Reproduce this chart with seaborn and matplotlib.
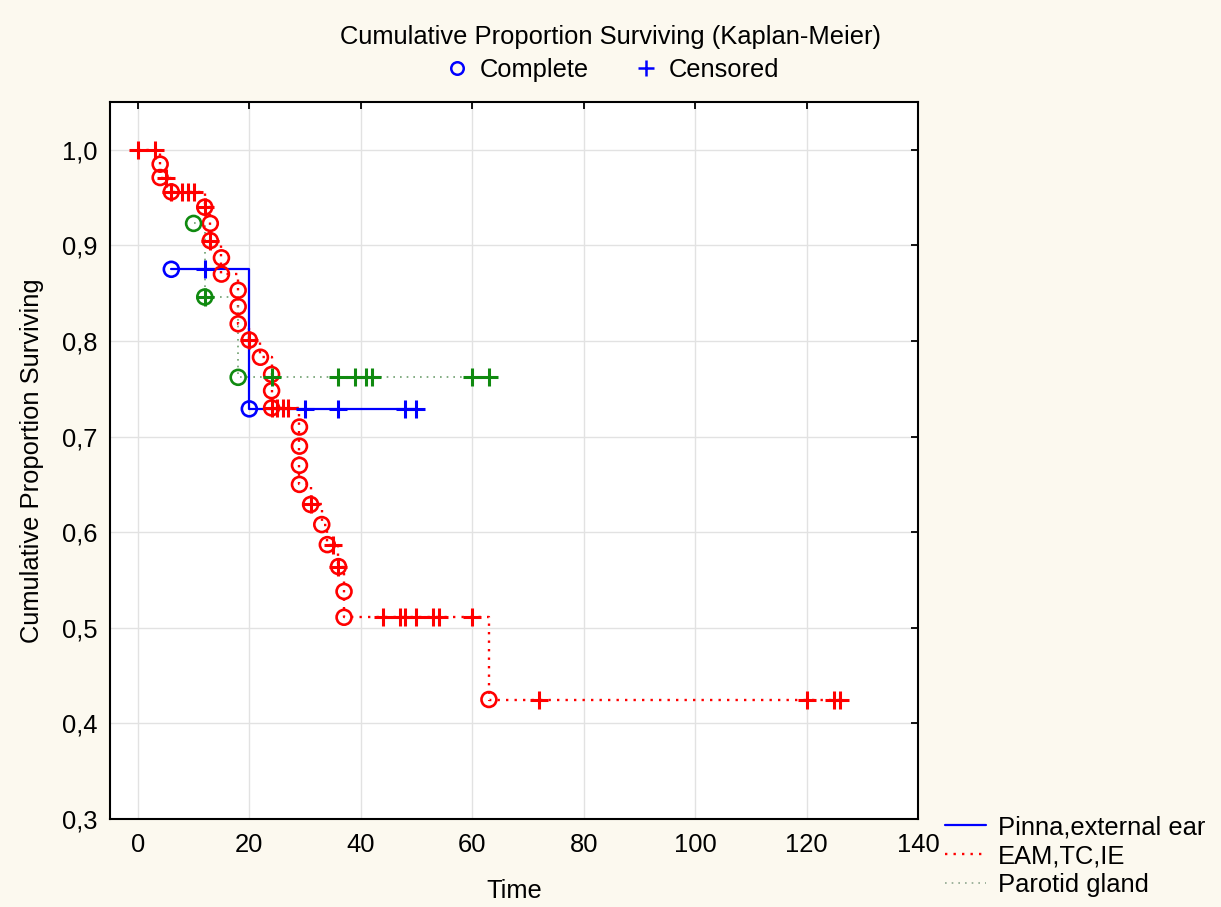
import numpy as np
import pandas as pd
import matplotlib
matplotlib.use("Agg")
import matplotlib.pyplot as plt
from matplotlib.lines import Line2D
from matplotlib.ticker import FuncFormatter
import seaborn as sns

# ---------------- data ----------------
groups = ["Pinna,external ear", "EAM,TC,IE", "Parotid gland"]

pinna_event_t = [6, 20]
pinna_event_s = [0.875, 0.729]
pinna_cens_t = [12, 30, 36, 48, 50]
pinna_cens_s = [0.875, 0.729, 0.729, 0.729, 0.729]

eam_event_t = [4, 4, 6, 12, 13, 13, 15, 15, 18, 18, 18, 20, 22, 24, 24, 24,
               29, 29, 29, 29, 31, 33, 34, 36, 37, 37, 63]
eam_event_s = [0.985, 0.971, 0.956, 0.940, 0.923, 0.905, 0.887, 0.870, 0.853,
               0.836, 0.818, 0.801, 0.783, 0.765, 0.748, 0.730, 0.710, 0.690,
               0.670, 0.650, 0.629, 0.608, 0.587, 0.564, 0.538, 0.511, 0.425]
eam_cens_t = [0, 3, 5, 6, 8, 9, 10, 12, 13, 20, 24, 25, 26, 27, 31, 35, 36,
              44, 47, 48, 50, 53, 54, 60, 72, 120, 125, 126]
eam_cens_s = [1.0, 1.0, 0.971, 0.956, 0.956, 0.956, 0.956, 0.940, 0.905, 0.801,
              0.730, 0.730, 0.730, 0.730, 0.629, 0.587, 0.564,
              0.511, 0.511, 0.511, 0.511, 0.511, 0.511, 0.511,
              0.425, 0.425, 0.425, 0.425]

parotid_event_t = [10, 12, 18]
parotid_event_s = [0.923, 0.846, 0.762]
parotid_cens_t = [12, 24, 36, 39, 41, 42, 60, 63]
parotid_cens_s = [0.846, 0.762, 0.762, 0.762, 0.762, 0.762, 0.762, 0.762]

y_ticks = [0.3, 0.4, 0.5, 0.6, 0.7, 0.8, 0.9, 1.0]
x_ticks = [0, 20, 40, 60, 80, 100, 120, 140]

# ---------------- styling ----------------
BG = "#FCF9EF"
sns.set_style("white")
plt.rcParams["font.family"] = ["Liberation Sans", "DejaVu Sans"]
plt.rcParams["text.color"] = "black"
plt.rcParams["axes.labelcolor"] = "black"
plt.rcParams["xtick.color"] = "black"
plt.rcParams["ytick.color"] = "black"

FS = 18.4

fig = plt.figure(figsize=(12.21, 9.07), dpi=100, facecolor=BG)
ax = fig.add_axes([110 / 1221, 1 - 819 / 907, (918 - 110) / 1221, (819 - 102) / 907])
ax.set_facecolor("white")

def build(ev_t, ev_s, ce_t, ce_s):
    d = pd.concat([
        pd.DataFrame({"t": ev_t, "s": ev_s, "kind": "event"}),
        pd.DataFrame({"t": ce_t, "s": ce_s, "kind": "censored"}),
    ], ignore_index=True)
    d = d.sort_values(["t", "s"], ascending=[True, False], kind="mergesort").reset_index(drop=True)
    return d

series = {
    "Pinna,external ear": dict(d=build(pinna_event_t, pinna_event_s, pinna_cens_t, pinna_cens_s),
                                color="#0000FF", ls="-", lw=1.6, lcolor="#0000FF"),
    "EAM,TC,IE": dict(d=build(eam_event_t, eam_event_s, eam_cens_t, eam_cens_s),
                      color="#FF0000", ls=(0, (1, 2.6)), lw=1.7, lcolor="#FF0000"),
    "Parotid gland": dict(d=build(parotid_event_t, parotid_event_s, parotid_cens_t, parotid_cens_s),
                          color="#108A10", ls=(0, (1, 3)), lw=1.2, lcolor="#6F9F6F"),
}

# grid
ax.grid(True, color="#E2E2E2", lw=1.0)
ax.set_axisbelow(True)

# step lines
for name in ["EAM,TC,IE", "Parotid gland", "Pinna,external ear"]:
    cfg = series[name]
    sns.lineplot(data=cfg["d"], x="t", y="s", ax=ax, sort=False, estimator=None,
                 drawstyle="steps-post", color=cfg["lcolor"], linestyle=cfg["ls"],
                 lw=cfg["lw"], legend=False)

# markers
for name in ["EAM,TC,IE", "Pinna,external ear", "Parotid gland"]:
    cfg = series[name]
    d = cfg["d"]
    ev = d[d["kind"] == "event"]
    ce = d[d["kind"] == "censored"]
    sns.scatterplot(data=ev, x="t", y="s", ax=ax, marker="o", s=115,
                    facecolor="none", edgecolor=cfg["color"], linewidth=1.9,
                    legend=False, zorder=5)
    sns.scatterplot(data=ce, x="t", y="s", ax=ax, marker="+", s=155,
                    color=cfg["color"], linewidth=2.2, legend=False, zorder=6)

ax.set_xlim(-5, 140)
ax.set_ylim(0.3, 1.05)
ax.set_xticks(x_ticks)
ax.set_yticks(y_ticks)
ax.yaxis.set_major_formatter(FuncFormatter(lambda v, p: f"{v:.1f}".replace(".", ",")))
ax.tick_params(direction="in", top=True, right=True, length=5, width=1.3,
               labelsize=FS, colors="black", pad=9)
ax.tick_params(axis="x", pad=10)
for sp in ax.spines.values():
    sp.set_visible(True)
    sp.set_color("black")
    sp.set_linewidth(1.5)

ax.set_xlabel("Time", fontsize=FS, labelpad=16, color="black")
ax.set_ylabel("Cumulative Proportion Surviving", fontsize=FS, labelpad=13, color="black")

# title + marker legend
fig.text(0.5, 1 - 37 / 907, "Cumulative Proportion Surviving (Kaplan-Meier)",
         ha="center", va="center", fontsize=FS, color="black")
mk_handles = [
    Line2D([], [], marker="o", ls="none", markersize=9, markerfacecolor="none",
           markeredgecolor="#0000FF", markeredgewidth=1.8),
    Line2D([], [], marker="+", ls="none", markersize=11, color="#0000FF",
           markeredgewidth=1.8),
]
leg1 = fig.legend(mk_handles, ["Complete", "Censored"], loc="center",
                  bbox_to_anchor=(0.5, 1 - 70 / 907), ncol=2, frameon=False,
                  fontsize=FS, handletextpad=0.3, columnspacing=1.6, handlelength=1.2)

# group legend
grp_handles = [
    Line2D([], [], color="#0000FF", lw=1.6, ls="-"),
    Line2D([], [], color="#FF0000", lw=1.7, ls=(0, (1, 2.6))),
    Line2D([], [], color="#8FA88F", lw=1.2, ls=(0, (1, 3))),
]
leg2 = fig.legend(grp_handles, groups, loc="upper left",
                  bbox_to_anchor=(940 / 1221, 1 - 810 / 907), frameon=False,
                  fontsize=FS, handlelength=1.6, handletextpad=0.45, labelspacing=0.2,
                  borderaxespad=0, borderpad=0.2)
for lg in (leg1, leg2):
    for t in lg.get_texts():
        t.set_color("black")

fig.savefig("out.png", dpi=100, facecolor=BG)
